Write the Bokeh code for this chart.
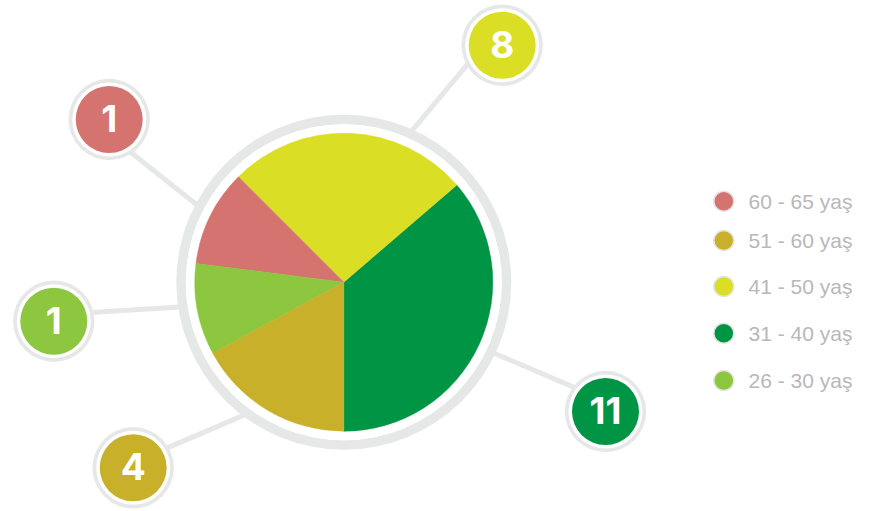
from bokeh.plotting import figure
from bokeh.models import Range1d, ColumnDataSource
from bokeh.core.properties import value
from bokeh.embed import file_html
from bokeh.resources import INLINE
import math

# ---- data ----
categories = ["60 - 65 yaş", "51 - 60 yaş", "41 - 50 yaş", "31 - 40 yaş", "26 - 30 yaş"]
counts = [1, 4, 8, 11, 1]                      # bubble numbers
pie_share = [10.5, 17.1, 26.2, 36.3, 9.9]        # share of the pie (%) as drawn
colors = ["#d4736f", "#c8b02a", "#dadf26", "#009544", "#8dc63f"]

# pie drawing order (counter-clockwise from the bottom)
pie_order = [3, 2, 0, 4, 1]

# ---- layout (screen-like coordinates; y measured from the top of the picture) ----
W, H = 882, 511
PIE_C = (343.3, 281.7)
PIE_R = 149
RING_IN, RING_OUT = 158, 167.5
bubble_pos = [(108.7, 119), (132.7, 467.3), (501.7, 44.7), (605, 411), (53.3, 320.7)]
line_from = [(131.7, 153), (168.3, 446.7), (466, 65), (573.3, 386.7), (94.3, 311.7)]
line_to = [(196, 204), (242.7, 415), (411.7, 130), (495, 353.3), (177.3, 306.7)]
legend_y = [200.7, 240, 286, 332.7, 380]
LEG_X = 723.3
LEG_TX = 748
GRAY = "#e6e7e7"

p = figure(width=W, height=H, output_backend="svg", toolbar_location=None,
           x_range=Range1d(0, W), y_range=Range1d(0, H),
           min_border=0)
p.axis.visible = False
p.grid.visible = False
p.outline_line_color = None
p.background_fill_color = "white"
p.border_fill_color = "white"

def fy(y):
    return H - y

# connector lines (extended a bit on both ends so they tuck under the circles)
xs, ys = [], []
for (x0, y0), (x1, y1) in zip(line_from, line_to):
    dx, dy = x1 - x0, y1 - y0
    L = math.hypot(dx, dy)
    ux, uy = dx / L, dy / L
    xs.append([x0 - 8 * ux, x1 + 6 * ux])
    ys.append([fy(y0 - 8 * uy), fy(y1 + 6 * uy)])
p.multi_line(xs=xs, ys=ys, line_color=GRAY, line_width=5)

# outer ring around the pie
p.annular_wedge(x=PIE_C[0], y=fy(PIE_C[1]), inner_radius=RING_IN, outer_radius=RING_OUT,
                start_angle=0, end_angle=2 * math.pi, fill_color=GRAY, line_color=None)
p.circle(x=PIE_C[0], y=fy(PIE_C[1]), radius=RING_IN, fill_color="white", line_color=None)

# pie slices
total = sum(pie_share)
start = -math.pi / 2
starts, ends, cols = [], [], []
for i in pie_order:
    a = pie_share[i] / total * 2 * math.pi
    starts.append(start)
    ends.append(start + a)
    cols.append(colors[i])
    start += a
src = ColumnDataSource(dict(s=starts, e=ends, c=cols))
p.wedge(x=PIE_C[0], y=fy(PIE_C[1]), radius=PIE_R, start_angle="s", end_angle="e",
        fill_color="c", line_color="c", line_width=0.5, source=src)

# bubbles
bx = [b[0] for b in bubble_pos]
by = [fy(b[1]) for b in bubble_pos]
p.circle(x=bx, y=by, radius=40.7, fill_color=GRAY, line_color=None)
p.circle(x=bx, y=by, radius=37, fill_color="white", line_color=None)
p.circle(x=bx, y=by, radius=33.5, fill_color=colors, line_color=None)
p.text(x=bx, y=[v + 1 for v in by], text=[str(c) for c in counts], text_color="white",
       text_font=value("Inter"), text_font_style="bold", text_font_size="37px",
       text_align="center", text_baseline="middle")

# legend
ly = [fy(v) for v in legend_y]
p.scatter(x=[LEG_X] * 5, y=ly, size=20, marker="circle", fill_color=colors,
          line_color="#e4e4e4", line_width=1.5)
p.text(x=[LEG_TX] * 5, y=ly, text=categories, text_color="#b8b8b8",
       text_font=value("Liberation Sans"), text_font_size="21px",
       text_align="left", text_baseline="middle")

open("out.html", "w").write(file_html(p, INLINE))
